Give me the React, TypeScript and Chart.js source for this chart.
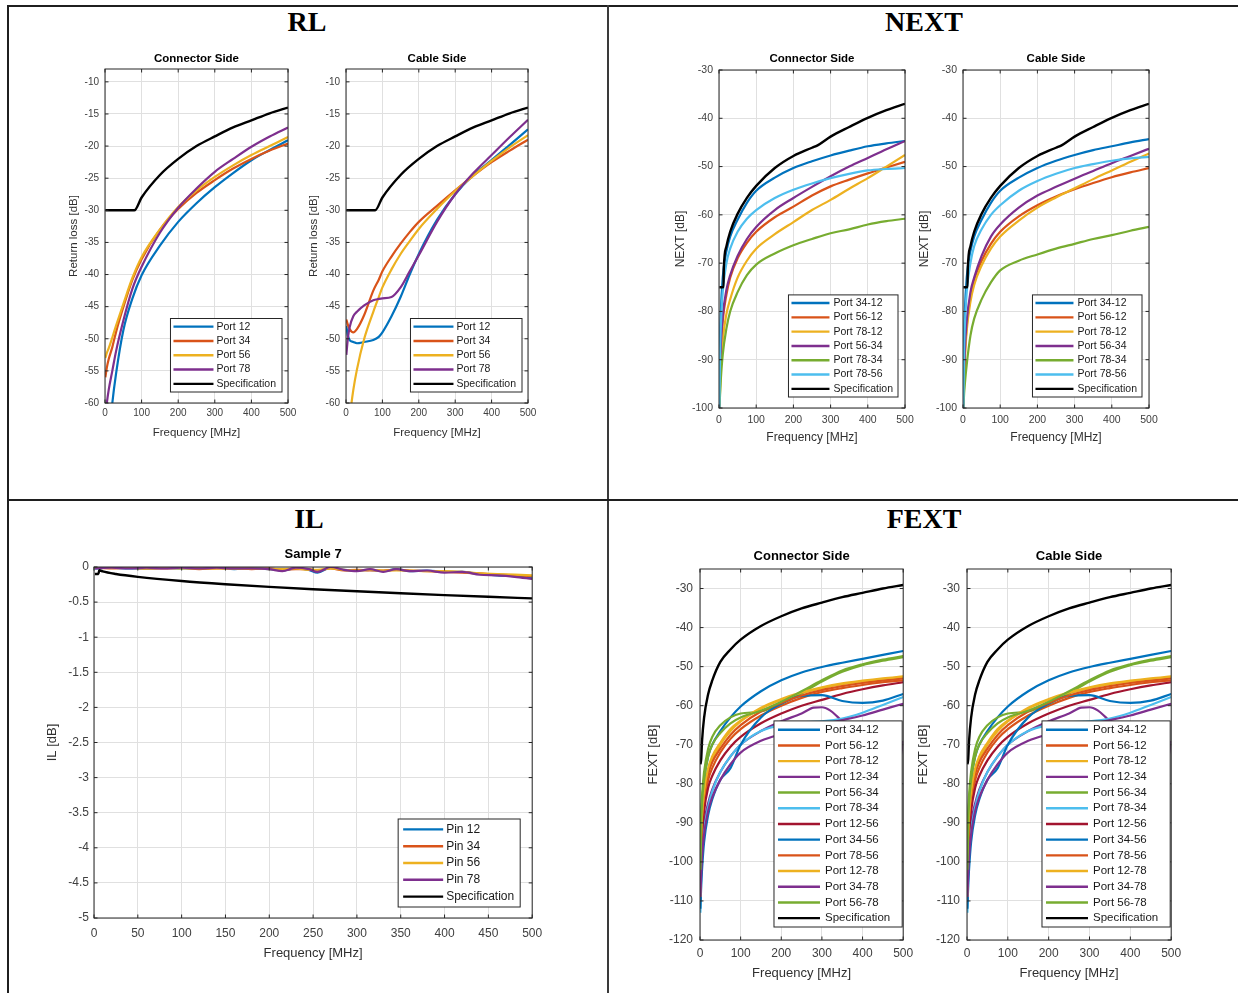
import React, { useEffect, useRef } from "react";
import { Chart, registerables } from "chart.js";

Chart.register(...registerables);

// ---------- colours (MATLAB default order) ----------
const BLUE = "#0072BD";
const ORANGE = "#D95319";
const YELLOW = "#EDB120";
const PURPLE = "#7E2F8E";
const GREEN = "#77AC30";
const LBLUE = "#4DBEEE";
const RED = "#A2142F";
const BLACK = "#000000";

const SANS = '"Liberation Sans", Arial, Helvetica, sans-serif';
const SERIF = '"Liberation Serif", "Times New Roman", Times, serif';

// ---------- RL ----------
const RL_SPEC_FREQ = [1, 80, 100, 150, 200, 250, 300, 350, 400, 450, 500];
const RL_SPEC = [-30, -30, -28, -24.5, -22, -20, -18.5, -17.1, -16, -14.9, -14];

const RL_CON_FREQ = [1, 5, 10, 20, 30, 50, 75, 100, 150, 200, 250, 300, 350, 400, 450, 500];
const RL_CON_12 = [-80, -72, -66, -60, -55.5, -48.7, -43.7, -40.1, -35.5, -31.8, -28.9, -26.4, -24.2, -22.2, -20.6, -19.1];
const RL_CON_34 = [-56, -54.5, -53.2, -51.3, -49, -45.1, -40.8, -37.6, -33, -29.8, -27.3, -25.3, -23.5, -22, -20.7, -19.6];
const RL_CON_56 = [-53, -52.2, -51.5, -49.8, -48, -44.6, -40.5, -37.3, -33, -29.5, -26.9, -24.8, -23, -21.4, -20, -18.6];
const RL_CON_78 = [-62, -60, -58, -55, -52, -47.2, -42.2, -38.8, -33.5, -29.6, -26.6, -24, -22, -20.1, -18.5, -17.1];

const RL_CAB_FREQ = [1, 5, 10, 20, 30, 50, 75, 90, 100, 125, 150, 175, 200, 250, 300, 350, 400, 450, 500];
const RL_CAB_12 = [-48, -49.5, -50.2, -50.5, -50.7, -50.5, -50.2, -49.7, -49, -46.5, -43.5, -40, -36.8, -31.5, -27.5, -24.5, -22.2, -19.8, -17.4];
const RL_CAB_34 = [-47, -47.8, -48.5, -49, -48.5, -46.3, -42.5, -40.8, -39.5, -37.2, -35.2, -33.4, -31.8, -29.3, -26.9, -24.6, -22.5, -20.7, -19];
const RL_CAB_56 = [-72, -66, -62.5, -58, -54.8, -50, -45.8, -43.5, -42, -39.2, -36.8, -34.8, -32.9, -29.8, -27, -24.6, -22.3, -20.2, -18.3];
const RL_CAB_78 = [-52.5, -50, -48.2, -46.5, -45.8, -44.8, -44, -43.8, -43.7, -43.5, -42, -39.5, -37, -31.8, -27.5, -24.2, -21.4, -18.6, -15.9];

// ---------- NEXT ----------
const NEXT_SPEC_FREQ = [1, 12, 13, 20, 30, 50, 75, 100, 150, 200, 250, 265, 300, 350, 400, 450, 500];
const NEXT_SPEC = [-75, -75, -71, -66.5, -63.5, -59.8, -56.5, -54, -50.3, -47.8, -46.1, -45.6, -43.8, -41.8, -39.9, -38.3, -37];
const NEXT_FREQ = [1, 3, 5, 10, 20, 30, 50, 75, 100, 150, 200, 250, 300, 350, 400, 450, 500];
const NEXT_CON_3412 = [-100, -86, -80, -73, -67.5, -64.5, -61, -57.5, -55, -52.3, -50.3, -48.9, -47.7, -46.7, -45.8, -45.2, -44.7];
const NEXT_CON_5612 = [-100, -93, -88, -82, -76.5, -73, -69, -65.8, -63.5, -60.5, -58.3, -56, -54.1, -52.7, -51.4, -50.2, -49];
const NEXT_CON_7812 = [-100, -96, -92, -86, -80.5, -77.5, -73, -69.5, -67, -64, -61.5, -59, -56.9, -54.6, -52.4, -50, -47.6];
const NEXT_CON_5634 = [-100, -92, -87, -81, -75.5, -72.5, -68.5, -65, -62.5, -59, -56.5, -54.2, -52, -50, -48.2, -46.4, -44.7];
const NEXT_CON_7834 = [-100, -97, -94, -89, -83.5, -80, -76, -72.5, -70.3, -68, -66.3, -65, -63.8, -63, -62, -61.3, -60.8];
const NEXT_CON_7856 = [-100, -88, -83, -76, -70, -67, -63.5, -60.8, -59, -56.5, -54.8, -53.5, -52.4, -51.5, -50.8, -50.5, -50.3];

const NEXT_CAB_3412 = [-100, -86, -80, -73, -67.5, -64.5, -61, -57.5, -55, -52.3, -50.3, -48.8, -47.6, -46.6, -45.8, -45, -44.3];
const NEXT_CAB_5612 = [-100, -94, -89, -83, -77, -73.5, -69.5, -66, -63.5, -60.3, -58, -56.2, -54.7, -53.4, -52.2, -51.2, -50.3];
const NEXT_CAB_7812 = [-100, -95, -90, -84, -78, -74.5, -70.5, -67, -64.5, -61.2, -58.5, -56.4, -54.5, -52.6, -50.8, -49, -47.3];
const NEXT_CAB_5634 = [-100, -93, -88, -82, -76, -73, -68.5, -64.5, -62, -58.5, -56, -54.2, -52.5, -50.9, -49.3, -47.8, -46.3];
const NEXT_CAB_7834 = [-100, -97, -95, -91, -85, -81.5, -77.5, -74, -71.5, -69.5, -68.2, -67, -66, -65, -64.2, -63.3, -62.5];
const NEXT_CAB_7856 = [-100, -88, -83, -76, -70, -66.5, -63, -60, -58, -55, -53, -51.5, -50.3, -49.5, -48.8, -48.3, -48];

// ---------- IL ----------
const IL_SPEC_FREQ = [1, 5, 6, 10, 25, 50, 100, 150, 200, 250, 300, 350, 400, 450, 500];
const IL_SPEC = [-0.1, -0.1, -0.045, -0.063, -0.1, -0.141, -0.2, -0.245, -0.283, -0.316, -0.346, -0.374, -0.4, -0.424, -0.447];
const IL_FREQ = [1, 20, 40, 60, 80, 100, 120, 140, 160, 180, 200, 215, 230, 245, 255, 270, 285, 300, 315, 330, 345, 360, 380, 400, 420, 440, 460, 480, 500];
const IL_12 = [-0.02, -0.01, -0.02, -0.02, -0.01, -0.02, -0.02, -0.01, -0.03, -0.02, -0.03, -0.05, -0.02, -0.04, -0.08, -0.01, -0.04, -0.05, -0.04, -0.06, -0.03, -0.06, -0.05, -0.07, -0.07, -0.1, -0.12, -0.13, -0.16];
const IL_34 = [-0.01, -0.02, -0.01, -0.02, -0.02, -0.01, -0.03, -0.02, -0.02, -0.03, -0.02, -0.04, -0.03, -0.03, -0.05, -0.02, -0.05, -0.04, -0.05, -0.05, -0.04, -0.05, -0.06, -0.07, -0.08, -0.09, -0.11, -0.12, -0.13];
const IL_56 = [-0.01, -0.01, -0.01, -0.02, -0.01, -0.02, -0.02, -0.02, -0.02, -0.02, -0.03, -0.03, -0.02, -0.04, -0.04, -0.02, -0.04, -0.05, -0.04, -0.05, -0.05, -0.05, -0.06, -0.06, -0.07, -0.09, -0.1, -0.11, -0.12];
const IL_78 = [-0.02, -0.01, -0.02, -0.01, -0.02, -0.01, -0.02, -0.01, -0.02, -0.02, -0.03, -0.06, -0.01, -0.03, -0.07, 0, -0.04, -0.06, -0.03, -0.07, -0.03, -0.06, -0.05, -0.08, -0.07, -0.11, -0.12, -0.14, -0.17];

// ---------- FEXT ----------
const FEXT_SPEC_FREQ = [1, 3, 5, 10, 20, 30, 50, 75, 100, 150, 200, 250, 300, 350, 400, 450, 500];
const FEXT_SPEC = [-75, -73.6, -69.1, -63.1, -57.1, -53.6, -48.8, -45.6, -43.1, -39.6, -37.1, -35.1, -33.6, -32.2, -31.1, -30, -29.1];
const FEXT_FREQ = [1, 3, 5, 10, 20, 30, 50, 75, 100, 150, 200, 250, 300, 350, 400, 450, 500];
const FEXT_3412 = [-104, -92, -86, -79, -73, -70, -66.5, -63, -60.2, -56.3, -53.5, -51.5, -50.1, -49, -48, -47, -46];
const FEXT_5612 = [-106, -96, -91, -85, -79, -76, -72, -68.5, -66, -62.5, -60, -58, -56.5, -55.5, -54.7, -54, -53.5];
const FEXT_7812 = [-108, -94, -89, -83, -77, -74, -70, -66.5, -64, -60.8, -58.5, -56.8, -55.5, -54.5, -53.8, -53.3, -52.8];
const FEXT_1234_FREQ = [1, 3, 5, 10, 20, 30, 50, 75, 100, 150, 200, 250, 280, 300, 320, 340, 370, 400, 440, 470, 485, 500];
const FEXT_1234 = [-108, -101, -96, -90, -85, -81.5, -77, -73, -70, -66.5, -64, -62, -60.5, -60.4, -61.2, -63, -66, -70, -76, -80, -78, -69];
const FEXT_5634 = [-100, -88, -83, -77, -71, -68, -65, -63, -62, -61.5, -59.5, -56.8, -53.8, -51.3, -49.6, -48.5, -47.6];
const FEXT_7834 = [-113, -104, -98, -92, -86, -82, -77, -73, -70, -66.5, -65, -64.3, -64, -63.3, -61.8, -59.8, -57.8];
const FEXT_1256 = [-110, -98, -93, -87, -81, -78, -74, -70.5, -68, -64.5, -62, -60, -58.5, -57, -55.8, -54.8, -54];
const FEXT_3456 = [-112, -106, -102, -95, -88, -84, -79, -76, -70, -63, -59.5, -57.5, -57.3, -58.8, -59.3, -58.7, -57];
const FEXT_7856 = [-107, -94, -89, -83, -77.5, -74.5, -71, -67.5, -65, -61.5, -59.3, -57.4, -56, -55, -54.2, -53.6, -53];
const FEXT_1278 = [-109, -93, -88, -82, -76, -73, -69.5, -66, -63.8, -60.5, -58.3, -56.6, -55.3, -54.3, -53.6, -53, -52.5];
const FEXT_3478 = [-109, -103, -99, -93, -87, -83.5, -79, -75, -72, -69, -67.3, -66, -64.8, -63.7, -62.5, -61, -59.5];
const FEXT_5678 = [-102, -90, -85, -79, -73, -70, -67, -64.5, -63, -61.3, -59, -56.3, -53.5, -51, -49.4, -48.2, -47.3];

// ---------- types / helpers ----------
type Series = { label: string; color: string; freq: number[]; vals: number[] };
type Leg = { fontSize: number; rowH: number; lineLen: number; padL: number; gap: number; padR: number; padY: number; right: number; bottom: number };
type PanelCfg = {
  box: { l: number; t: number; r: number; b: number };
  title: string; titleSize: number; titleY: number;
  xTitle: string; xTitleY: number;
  yTitle: string; yTitleX: number;
  axisTitleSize: number; tickSize: number; xTickY: number; yTickGap: number;
  xMin: number; xMax: number; xStep: number;
  yMin: number; yMax: number; yStep: number;
  series: Series[]; legend: Leg;
};

const mk = (label: string, color: string, freq: number[], vals: number[]): Series => ({ label, color, freq, vals });

const RL_CON_SERIES = [
  mk("Port 12", BLUE, RL_CON_FREQ, RL_CON_12),
  mk("Port 34", ORANGE, RL_CON_FREQ, RL_CON_34),
  mk("Port 56", YELLOW, RL_CON_FREQ, RL_CON_56),
  mk("Port 78", PURPLE, RL_CON_FREQ, RL_CON_78),
  mk("Specification", BLACK, RL_SPEC_FREQ, RL_SPEC),
];
const RL_CAB_SERIES = [
  mk("Port 12", BLUE, RL_CAB_FREQ, RL_CAB_12),
  mk("Port 34", ORANGE, RL_CAB_FREQ, RL_CAB_34),
  mk("Port 56", YELLOW, RL_CAB_FREQ, RL_CAB_56),
  mk("Port 78", PURPLE, RL_CAB_FREQ, RL_CAB_78),
  mk("Specification", BLACK, RL_SPEC_FREQ, RL_SPEC),
];
const NEXT_CON_SERIES = [
  mk("Port 34-12", BLUE, NEXT_FREQ, NEXT_CON_3412),
  mk("Port 56-12", ORANGE, NEXT_FREQ, NEXT_CON_5612),
  mk("Port 78-12", YELLOW, NEXT_FREQ, NEXT_CON_7812),
  mk("Port 56-34", PURPLE, NEXT_FREQ, NEXT_CON_5634),
  mk("Port 78-34", GREEN, NEXT_FREQ, NEXT_CON_7834),
  mk("Port 78-56", LBLUE, NEXT_FREQ, NEXT_CON_7856),
  mk("Specification", BLACK, NEXT_SPEC_FREQ, NEXT_SPEC),
];
const NEXT_CAB_SERIES = [
  mk("Port 34-12", BLUE, NEXT_FREQ, NEXT_CAB_3412),
  mk("Port 56-12", ORANGE, NEXT_FREQ, NEXT_CAB_5612),
  mk("Port 78-12", YELLOW, NEXT_FREQ, NEXT_CAB_7812),
  mk("Port 56-34", PURPLE, NEXT_FREQ, NEXT_CAB_5634),
  mk("Port 78-34", GREEN, NEXT_FREQ, NEXT_CAB_7834),
  mk("Port 78-56", LBLUE, NEXT_FREQ, NEXT_CAB_7856),
  mk("Specification", BLACK, NEXT_SPEC_FREQ, NEXT_SPEC),
];
const IL_SERIES = [
  mk("Pin 12", BLUE, IL_FREQ, IL_12),
  mk("Pin 34", ORANGE, IL_FREQ, IL_34),
  mk("Pin 56", YELLOW, IL_FREQ, IL_56),
  mk("Pin 78", PURPLE, IL_FREQ, IL_78),
  mk("Specification", BLACK, IL_SPEC_FREQ, IL_SPEC),
];
const FEXT_SERIES = [
  mk("Port 34-12", BLUE, FEXT_FREQ, FEXT_3412),
  mk("Port 56-12", ORANGE, FEXT_FREQ, FEXT_5612),
  mk("Port 78-12", YELLOW, FEXT_FREQ, FEXT_7812),
  mk("Port 12-34", PURPLE, FEXT_1234_FREQ, FEXT_1234),
  mk("Port 56-34", GREEN, FEXT_FREQ, FEXT_5634),
  mk("Port 78-34", LBLUE, FEXT_FREQ, FEXT_7834),
  mk("Port 12-56", RED, FEXT_FREQ, FEXT_1256),
  mk("Port 34-56", BLUE, FEXT_FREQ, FEXT_3456),
  mk("Port 78-56", ORANGE, FEXT_FREQ, FEXT_7856),
  mk("Port 12-78", YELLOW, FEXT_FREQ, FEXT_1278),
  mk("Port 34-78", PURPLE, FEXT_FREQ, FEXT_3478),
  mk("Port 56-78", GREEN, FEXT_FREQ, FEXT_5678),
  mk("Specification", BLACK, FEXT_SPEC_FREQ, FEXT_SPEC),
];

// ---------- layout of panels ----------
const LEG_RL: Leg = { fontSize: 10.5, rowH: 14.3, lineLen: 40, padL: 3, gap: 3, padR: 6, padY: 1, right: 6, bottom: 11 };
const LEG_NEXT: Leg = { fontSize: 10.5, rowH: 14.3, lineLen: 38, padL: 3, gap: 4, padR: 5, padY: 1, right: 7, bottom: 11 };
const LEG_IL: Leg = { fontSize: 12, rowH: 16.8, lineLen: 40, padL: 5, gap: 3, padR: 6, padY: 2, right: 12, bottom: 11 };
const LEG_FEXT: Leg = { fontSize: 11.5, rowH: 15.7, lineLen: 42, padL: 4, gap: 5, padR: 12, padY: 1, right: 1, bottom: 13 };

const rlBase = { titleSize: 11.5, titleY: 59, xTitle: "Frequency [MHz]", xTitleY: 433, yTitle: "Return loss [dB]", axisTitleSize: 11.5, tickSize: 10, xTickY: 413, yTickGap: 6, xMin: 0, xMax: 500, xStep: 100, yMin: -60, yMax: -8, yStep: 5, legend: LEG_RL };
const nextBase = { titleSize: 11.5, titleY: 59, xTitle: "Frequency [MHz]", xTitleY: 438, yTitle: "NEXT [dB]", axisTitleSize: 12, tickSize: 10.5, xTickY: 420, yTickGap: 6, xMin: 0, xMax: 500, xStep: 100, yMin: -100, yMax: -30, yStep: 10, legend: LEG_NEXT };
const fextBase = { titleSize: 13, titleY: 556, xTitle: "Frequency [MHz]", xTitleY: 973, yTitle: "FEXT [dB]", axisTitleSize: 13, tickSize: 12, xTickY: 954, yTickGap: 7, xMin: 0, xMax: 500, xStep: 100, yMin: -120, yMax: -25, yStep: 10, legend: LEG_FEXT };

const PANELS: PanelCfg[] = [
  { ...rlBase, box: { l: 105, t: 69, r: 288, b: 403 }, title: "Connector Side", yTitleX: 74, series: RL_CON_SERIES },
  { ...rlBase, box: { l: 346, t: 69, r: 528, b: 403 }, title: "Cable Side", yTitleX: 314, series: RL_CAB_SERIES },
  { ...nextBase, box: { l: 719, t: 70, r: 905, b: 408 }, title: "Connector Side", yTitleX: 680, series: NEXT_CON_SERIES },
  { ...nextBase, box: { l: 963, t: 70, r: 1149, b: 408 }, title: "Cable Side", yTitleX: 924, series: NEXT_CAB_SERIES },
  {
    box: { l: 94, t: 567, r: 535, b: 918 }, title: "Sample 7", titleSize: 13, titleY: 554,
    xTitle: "Frequency [MHz]", xTitleY: 953, yTitle: "IL [dB]", yTitleX: 53,
    axisTitleSize: 13, tickSize: 12, xTickY: 934, yTickGap: 5,
    xMin: 0, xMax: 500, xStep: 50, yMin: -5, yMax: 0, yStep: 0.5,
    series: IL_SERIES, legend: LEG_IL,
  },
  { ...fextBase, box: { l: 700, t: 569, r: 904, b: 940 }, title: "Connector Side", yTitleX: 654, series: FEXT_SERIES },
  { ...fextBase, box: { l: 967, t: 569, r: 1172, b: 940 }, title: "Cable Side", yTitleX: 924, series: FEXT_SERIES },
];

const BIG_TITLES = [
  { text: "RL", x: 307, y: 22 },
  { text: "NEXT", x: 924, y: 22 },
  { text: "IL", x: 309, y: 519 },
  { text: "FEXT", x: 924, y: 519 },
];

// ---------- plugins ----------
const axesBoxPlugin = {
  id: "axesBox",
  afterDatasetsDraw(chart: any) {
    const { ctx, chartArea: a, scales } = chart;
    const tl = 3.5;
    ctx.save();
    ctx.strokeStyle = "#262626";
    ctx.lineWidth = 1;
    ctx.beginPath();
    for (const t of scales.x.ticks) {
      const px = scales.x.getPixelForValue(t.value);
      ctx.moveTo(px, a.bottom); ctx.lineTo(px, a.bottom - tl);
      ctx.moveTo(px, a.top); ctx.lineTo(px, a.top + tl);
    }
    for (const t of scales.y.ticks) {
      const py = scales.y.getPixelForValue(t.value);
      ctx.moveTo(a.left, py); ctx.lineTo(a.left + tl, py);
      ctx.moveTo(a.right, py); ctx.lineTo(a.right - tl, py);
    }
    ctx.stroke();
    ctx.strokeRect(a.left, a.top, a.right - a.left, a.bottom - a.top);
    ctx.restore();
  },
};

const boxLegendPlugin = {
  id: "boxLegend",
  afterDraw(chart: any, _args: any, o: any) {
    const { ctx, chartArea: a } = chart;
    const ds = chart.data.datasets;
    ctx.save();
    ctx.font = `${o.fontSize}px ${SANS}`;
    let tw = 0;
    for (const d of ds) tw = Math.max(tw, ctx.measureText(d.label).width);
    const w = o.padL + o.lineLen + o.gap + tw + o.padR;
    const h = o.padY * 2 + ds.length * o.rowH;
    const x = a.right - o.right - w;
    const y = a.bottom - o.bottom - h;
    ctx.fillStyle = "#ffffff";
    ctx.fillRect(x, y, w, h);
    ctx.strokeStyle = "#262626";
    ctx.lineWidth = 1;
    ctx.strokeRect(x, y, w, h);
    ds.forEach((d: any, i: number) => {
      const cy = y + o.padY + o.rowH * (i + 0.5);
      ctx.strokeStyle = d.borderColor;
      ctx.lineWidth = 2.4;
      ctx.beginPath();
      ctx.moveTo(x + o.padL, cy);
      ctx.lineTo(x + o.padL + o.lineLen, cy);
      ctx.stroke();
      ctx.fillStyle = "#1a1a1a";
      ctx.textBaseline = "middle";
      ctx.textAlign = "left";
      ctx.fillText(d.label, x + o.padL + o.lineLen + o.gap, cy);
    });
    ctx.restore();
  },
};

function geom(p: PanelCfg) {
  const PR = 16;
  const yLH = p.axisTitleSize * 1.2;
  const left = Math.round(p.yTitleX - yLH / 2);
  const yw = p.box.l - left;
  const width = p.box.r - left + PR;
  const tLH = p.titleSize * 1.2;
  const pb = p.box.t - p.titleY - tLH / 2;
  const top = Math.floor(p.titleY - tLH / 2 - 3);
  const pt = p.box.t - top - tLH - pb;
  const xLH = p.axisTitleSize * 1.2;
  const xh = Math.round(p.xTitleY + xLH / 2 - p.box.b);
  const height = p.box.b + xh - top;
  const xTickPad = p.xTickY - p.box.b - (p.tickSize * 1.2) / 2;
  return { left, top, width, height, yw, xh, pt, pb, PR, xTickPad };
}

const fmt = (v: any) => String(Math.round(Number(v) * 1000) / 1000);

function Panel({ p }: { p: PanelCfg }) {
  const ref = useRef<HTMLCanvasElement | null>(null);
  const g = geom(p);
  useEffect(() => {
    if (!ref.current) return;
    const tickFont = { family: SANS, size: p.tickSize };
    const axTitleFont = { family: SANS, size: p.axisTitleSize };
    const n = p.series.length;
    const chart = new Chart(ref.current, {
      type: "line",
      data: {
        datasets: p.series.map((s, i) => ({
          label: s.label,
          data: s.freq.map((x, j) => ({ x, y: s.vals[j] })),
          borderColor: s.color,
          backgroundColor: s.color,
          borderWidth: s.color === BLACK ? 2.4 : 2.2,
          pointRadius: 0,
          fill: false,
          order: n - i,
          cubicInterpolationMode: "monotone",
        })),
      },
      options: {
        responsive: false,
        animation: false,
        events: [],
        layout: { padding: { left: 0, right: g.PR, top: 0, bottom: 0 } },
        plugins: {
          legend: { display: false },
          tooltip: { enabled: false },
          title: {
            display: true,
            text: p.title,
            fullSize: false,
            color: "#000000",
            font: { family: SANS, size: p.titleSize, weight: "bold" },
            padding: { top: g.pt, bottom: g.pb },
          },
          boxLegend: p.legend,
        } as any,
        scales: {
          x: {
            type: "linear",
            min: p.xMin,
            max: p.xMax,
            grid: { color: "#e0e0e0", drawTicks: false },
            border: { display: false },
            ticks: { stepSize: p.xStep, autoSkip: false, maxRotation: 0, includeBounds: false, padding: g.xTickPad, font: tickFont, color: "#404040", callback: fmt },
            title: { display: true, text: p.xTitle, font: axTitleFont, color: "#303030", padding: 0 },
            afterFit: (s: any) => { s.height = g.xh; },
          },
          y: {
            type: "linear",
            min: p.yMin,
            max: p.yMax,
            grid: { color: "#e0e0e0", drawTicks: false },
            border: { display: false },
            ticks: { stepSize: p.yStep, autoSkip: false, includeBounds: false, padding: p.yTickGap, font: tickFont, color: "#404040", callback: fmt },
            title: { display: true, text: p.yTitle, font: axTitleFont, color: "#303030", padding: 0 },
            afterFit: (s: any) => { s.width = g.yw; },
          },
        } as any,
      },
      plugins: [axesBoxPlugin, boxLegendPlugin],
    } as any);
    return () => chart.destroy();
  }, []);
  return (
    <canvas
      ref={ref}
      width={g.width}
      height={g.height}
      style={{ position: "absolute", left: g.left, top: g.top, width: g.width, height: g.height }}
    />
  );
}

const LINE = "#1f1f1f";

export default function App() {
  return (
    <div style={{ position: "absolute", left: 0, top: 0, width: 1238, height: 993, background: "#ffffff", overflow: "hidden" }}>
      <div style={{ position: "absolute", left: 7, top: 5, width: 1231, height: 2, background: LINE }} />
      <div style={{ position: "absolute", left: 7, top: 5, width: 2, height: 988, background: LINE }} />
      <div style={{ position: "absolute", left: 607, top: 5, width: 2, height: 988, background: "#3a3a3a" }} />
      <div style={{ position: "absolute", left: 7, top: 499, width: 1231, height: 2, background: LINE }} />
      {BIG_TITLES.map((t) => (
        <div
          key={t.text}
          style={{
            position: "absolute", left: t.x, top: t.y, transform: "translate(-50%, -50%)",
            fontFamily: SERIF, fontWeight: "bold", fontSize: 28, lineHeight: 1, color: "#000", whiteSpace: "nowrap",
          }}
        >
          {t.text}
        </div>
      ))}
      {PANELS.map((p, i) => (
        <Panel key={i} p={p} />
      ))}
    </div>
  );
}
